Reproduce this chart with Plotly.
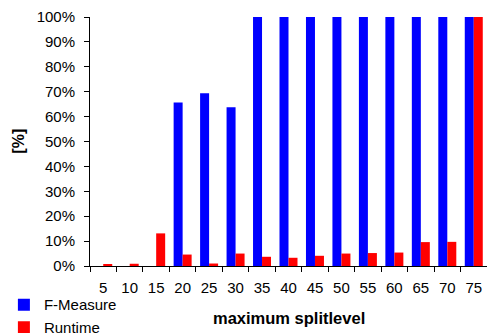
import plotly.graph_objects as go

# maximum splitlevel settings on the category axis
splitlevels = ["5", "10", "15", "20", "25", "30", "35", "40", "45", "50",
               "55", "60", "65", "70", "75"]

# F-Measure and relative runtime, both in percent
f_measure = [0, 0, 0, 65.7, 69.4, 63.8, 100, 100, 100, 100, 100, 100, 100, 100, 100]
runtime = [0.6, 0.9, 13.1, 4.6, 1.0, 5.0, 3.7, 3.3, 4.1, 5.0, 5.2, 5.4, 9.6, 9.7, 100]

y_ticks = list(range(0, 101, 10))

FONT = "Liberation Sans, Arial, sans-serif"

fig = go.Figure()
fig.add_trace(go.Bar(x=splitlevels, y=f_measure, name="F-Measure",
                     marker=dict(color="#0000FF", line=dict(width=0))))
fig.add_trace(go.Bar(x=splitlevels, y=runtime, name="Runtime",
                     marker=dict(color="#FF0000", line=dict(width=0))))

fig.update_layout(
    width=487, height=333,
    margin=dict(l=90, r=0, t=17, b=67, autoexpand=False),
    paper_bgcolor="white", plot_bgcolor="white",
    barmode="group", bargap=0.32, bargroupgap=0,
    font=dict(family=FONT, size=15, color="#000000"),
    showlegend=True,
    legend=dict(
        xref="container", yref="container",
        x=0.008, y=0.134, xanchor="left", yanchor="top",
        bgcolor="rgba(0,0,0,0)", borderwidth=0,
        font=dict(family=FONT, size=15, color="#000000"),
        tracegroupgap=0, itemsizing="constant",
    ),
)

fig.update_xaxes(
    type="category", automargin=False, tickangle=0,
    showline=True, linecolor="#000000", linewidth=1,
    ticks="outside", tickson="boundaries", ticklen=5, tickcolor="#000000",
    showgrid=False, zeroline=False,
    ticklabelstandoff=8,
    tickfont=dict(family=FONT, size=15),
)

fig.update_yaxes(
    range=[0, 100], automargin=False,
    tickvals=y_ticks, ticktext=[f"{v}%" for v in y_ticks],
    showline=True, linecolor="#000000", linewidth=1,
    ticks="outside", ticklen=5, tickcolor="#000000",
    showgrid=False, zeroline=False,
    ticklabelstandoff=6,
    tickfont=dict(family=FONT, size=15),
)

# axis titles
fig.add_annotation(
    text="<b>maximum splitlevel</b>", xref="paper", yref="paper",
    x=0.5, y=-0.207, xanchor="center", yanchor="middle", showarrow=False,
    font=dict(family=FONT, size=16.5, color="#000000"),
)
fig.add_annotation(
    text="<b>[%]</b>", xref="paper", yref="paper", textangle=-90,
    x=-0.181, y=0.5, xanchor="center", yanchor="middle", showarrow=False,
    font=dict(family=FONT, size=16, color="#000000"),
)

fig.write_html("out.html")
